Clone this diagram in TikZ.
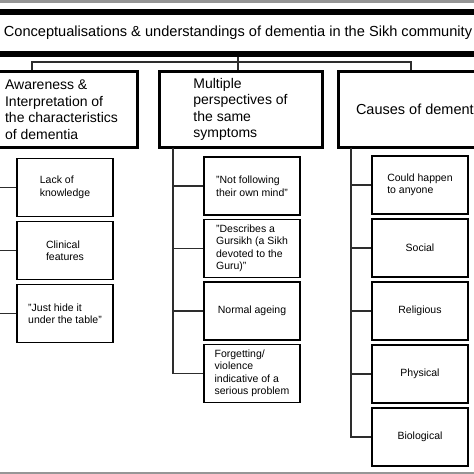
\documentclass[tikz,border=0pt]{standalone}
\usepackage{fontspec}
\setmainfont{Liberation Sans}
\usepackage{tikz}
\definecolor{edgegray}{RGB}{150,150,150}
\definecolor{linkgray}{RGB}{45,45,45}
\tikzset{
  titlebox/.style={draw, line width=6pt, minimum width=560pt, minimum height=42pt, font=\fontsize{14.6}{17}\selectfont},
  themebox/.style={draw, line width=3pt, minimum height=76pt, align=left, font=\fontsize{14}{16.5}\selectfont},
  subbox/.style={draw, line width=1.3pt, minimum width=96pt, minimum height=58pt, align=left, font=\fontsize{10.5}{12.5}\selectfont},
  link/.style={linkgray, line width=1.2pt}
}

\begin{document}
\begin{tikzpicture}[x=1pt, y=-1pt]
\useasboundingbox (0,0) rectangle (474,474);
\clip (0,0) rectangle (474,474);

% edges of the screenshot
\fill[edgegray] (0,0) rectangle (474,2.5);
\fill[edgegray] (0,471.5) rectangle (474,474);

% title and the three themes
\node[titlebox] (title) at (238,33) {Conceptualisations \& understandings of dementia in the Sikh community};
\node[themebox, minimum width=151pt] (aware) at (61.5,109.5) {Awareness \&\\Interpretation of\\the characteristics\\of dementia};
\node[themebox, minimum width=163pt] (persp) at (240.5,109.5) {Multiple\\perspectives of\\the same\\symptoms};
\node[themebox, minimum width=165pt, font=\fontsize{14.5}{17}\selectfont] (cause) at (420.5,109.5) {Causes of dementia};

% bus from title to themes
\coordinate (busL) at (32,62);
\coordinate (busR) at (411,62);
\draw[link] (title.south) -- (title.south |- persp.north);
\draw[link] (busL |- aware.north) -- (busL) -- (busR) -- (busR |- cause.north);

% sub-themes
\foreach \txt [count=\i] in {{Lack of\\knowledge}, {Clinical\\features}, {"Just hide it\\under the table"}}
    \node[subbox] (aware\i) at (65,{187.5+63*(\i-1)}) {\txt};
\foreach \txt [count=\i] in {{"Not following\\their own mind"}, {"Describes a\\Gursikh (a Sikh\\devoted to the\\Guru)"}, {Normal ageing}, {Forgetting/\\violence\\indicative of a\\serious problem}}
    \node[subbox] (persp\i) at (252,{186+62.5*(\i-1)}) {\txt};
\foreach \txt [count=\i] in {{Could happen\\to anyone}, Social, Religious, Physical, Biological}
    \node[subbox] (cause\i) at (420,{185+63*(\i-1)}) {\txt};

% tree lines
\coordinate (awareT) at (-4,147.5);
\coordinate (perspT) at (173,147.5);
\coordinate (causeT) at (351,147.5);
\foreach \i in {1,...,3}
    \draw[link] (awareT) |- (aware\i.west);
\foreach \i in {1,...,4}
    \draw[link] (perspT) |- (persp\i.west);
\foreach \i in {1,...,5}
    \draw[link] (causeT) |- (cause\i.west);
\end{tikzpicture}
\end{document}
